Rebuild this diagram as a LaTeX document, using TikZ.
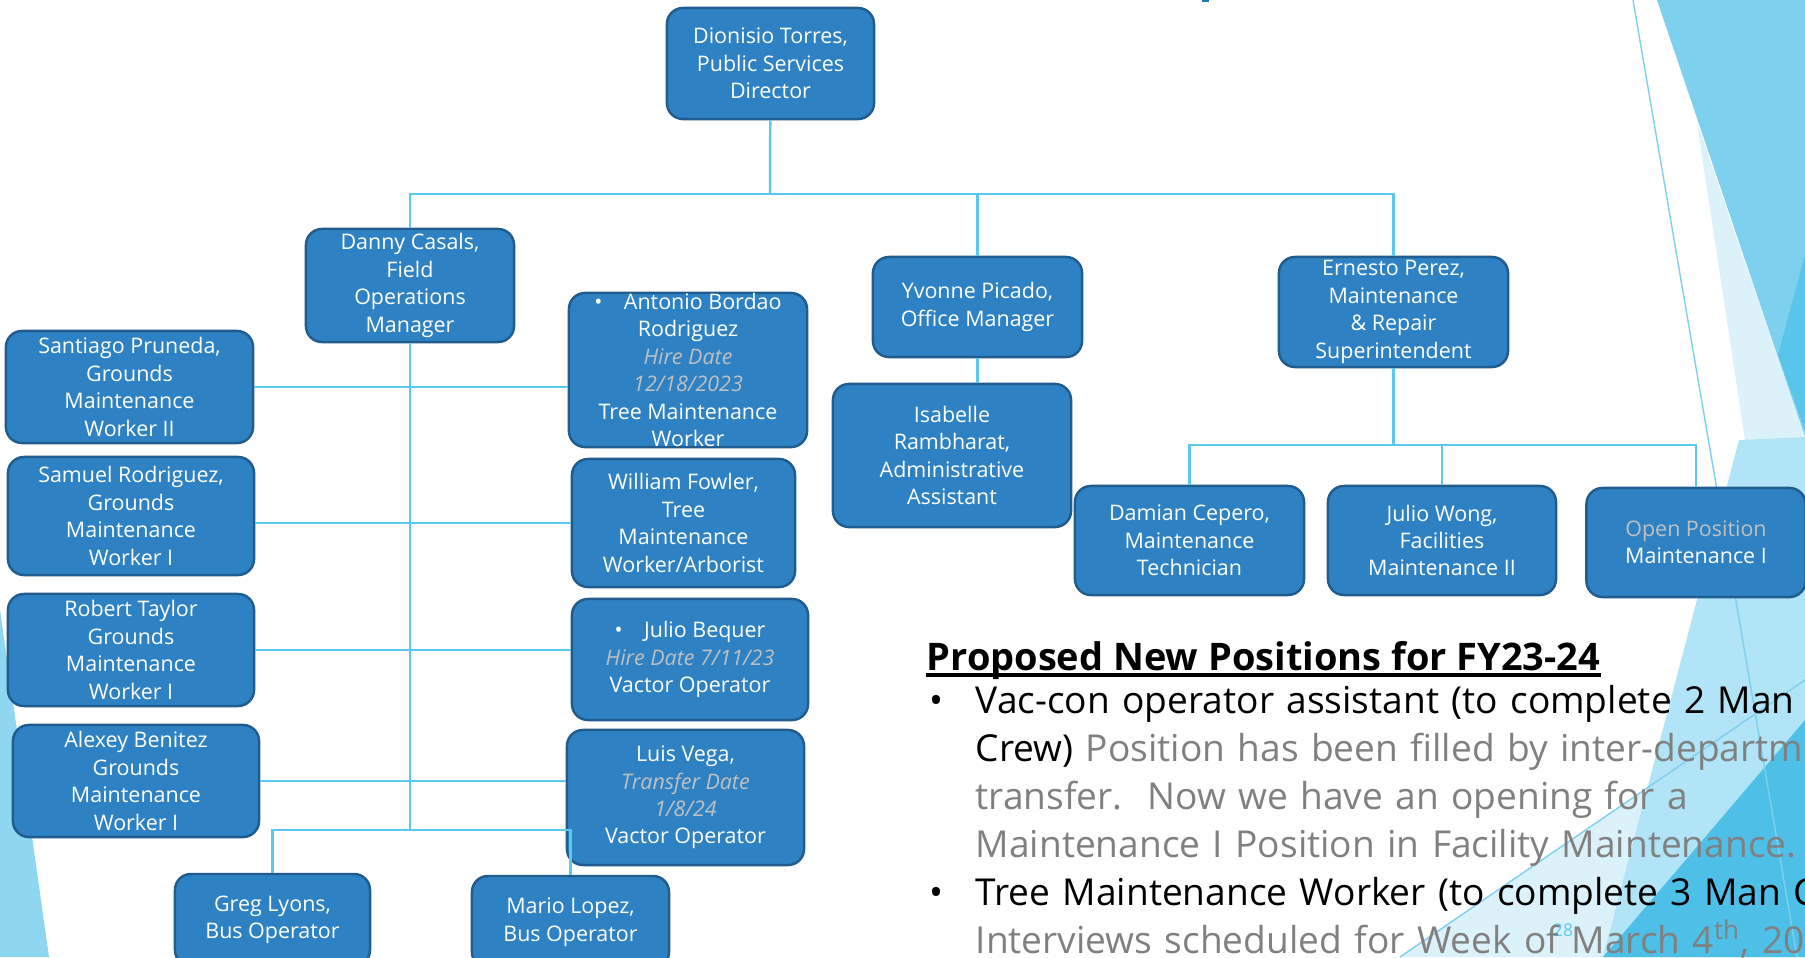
\documentclass[tikz,border=0pt]{standalone}
\usepackage{fontspec}
\setmainfont{Open Sans}

\definecolor{boxblue}{RGB}{46,130,195}
\definecolor{boxline}{RGB}{33,92,142}
\definecolor{linkblue}{RGB}{91,200,238}
\definecolor{hiregrey}{RGB}{192,192,192}
\definecolor{notegrey}{RGB}{128,128,128}
\definecolor{titlemark}{RGB}{26,127,175}
\definecolor{decotop}{RGB}{125,208,238}
\definecolor{decodark}{RGB}{90,197,234}
\definecolor{decopale}{RGB}{220,242,251}
\definecolor{decolight}{RGB}{176,228,246}
\definecolor{decodeep}{RGB}{78,192,232}
\definecolor{decoleft}{RGB}{143,214,241}

\newcommand{\hiretxt}[1]{\textcolor{hiregrey}{\itshape #1}}

\tikzset{
  posbox/.style 2 args={draw=boxline,line width=0.7pt,fill=boxblue,rounded corners=0.16cm,
    text=white,align=center,inner sep=0pt,minimum width=#1,minimum height=#2,
    font=\fontsize{6.1}{7.8}\selectfont},
  link/.style={draw=linkblue,line width=0.7pt},
  notefont/.style={font=\fontsize{10.55}{13.66}\selectfont}
}

\begin{document}
\begin{tikzpicture}[x=0.01cm,y=-0.01cm]

\useasboundingbox (0,0) rectangle (1805,957);
\clip (0,0) rectangle (1805,957);

% background shapes
\fill[decoleft] (0,610) -- (49,957) -- (0,957) -- cycle;
\fill[decotop] (1657,0) -- (1805,0) -- (1805,437) -- cycle;
\fill[decodark] (1805,255) -- (1778,355) -- (1805,430) -- cycle;
\fill[decopale] (1697,123) -- (1805,437) -- (1745,440) -- cycle;
\fill[decopale] (1400,957) -- (1805,680) -- (1805,957) -- cycle;
\fill[decolight] (1739,440) -- (1805,437) -- (1805,957) -- (1603,957) -- cycle;
\fill[decodeep] (1603,957) -- (1805,720) -- (1805,957) -- cycle;
\draw[decotop,line width=0.4pt] (1633,0) -- (1797,957);
\draw[decotop,line width=0.4pt] (1400,957) -- (1805,680);
\fill[titlemark] (1202,0) rectangle (1209,2);

\node[posbox={2.07cm}{1.11cm}] (dir) at (770.5,63.5) {Dionisio Torres,\\Public Services\\Director};

\node[posbox={2.08cm}{1.13cm}] (danny) at (410,285.5) {Danny Casals,\\Field\\Operations\\Manager};
\node[posbox={2.09cm}{1.00cm}] (yvonne) at (977.5,307) {Yvonne Picado,\\Office Manager};
\node[posbox={2.29cm}{1.10cm}] (ernesto) at (1393.5,312) {Ernesto Perez,\\Maintenance\\\& Repair\\Superintendent};

\node[posbox={2.38cm}{1.54cm}] (antonio) at (688,370) {•\quad Antonio Bordao\\Rodriguez\\\hiretxt{Hire Date}\\\hiretxt{12/18/2023}\\Tree Maintenance\\Worker};
\node[posbox={2.23cm}{1.28cm}] (william) at (683.5,523) {William Fowler,\\Tree\\Maintenance\\Worker/Arborist};
\node[posbox={2.36cm}{1.21cm}] (juliob) at (690,659.5) {•\quad Julio Bequer\\\hiretxt{Hire Date 7/11/23}\\Vactor Operator};
\node[posbox={2.37cm}{1.35cm}] (luis) at (685.5,797.5) {Luis Vega,\\\hiretxt{Transfer Date}\\\hiretxt{1/8/24}\\Vactor Operator};

\node[posbox={2.47cm}{1.12cm}] (santiago) at (129.5,387) {Santiago Pruneda,\\Grounds\\Maintenance\\Worker II};
\node[posbox={2.46cm}{1.18cm}] (samuel) at (131,516) {Samuel Rodriguez,\\Grounds\\Maintenance\\Worker I};
\node[posbox={2.46cm}{1.12cm}] (robert) at (131,650) {Robert Taylor\\Grounds\\Maintenance\\Worker I};
\node[posbox={2.46cm}{1.12cm}] (alexey) at (136,781) {Alexey Benitez\\Grounds\\Maintenance\\Worker I};

\node[posbox={1.95cm}{0.92cm}] (greg) at (272.5,920) {Greg Lyons,\\Bus Operator};
\node[posbox={1.97cm}{0.92cm}] (mario) at (570.5,922) {Mario Lopez,\\Bus Operator};

\node[posbox={2.38cm}{1.43cm}] (isabelle) at (952,455.5) {Isabelle\\Rambharat,\\Administrative\\Assistant};

\node[posbox={2.29cm}{1.09cm}] (damian) at (1189.5,540.5) {Damian Cepero,\\Maintenance\\Technician};
\node[posbox={2.28cm}{1.09cm}] (juliow) at (1442,540.5) {Julio Wong,\\Facilities\\Maintenance II};
\node[posbox={2.19cm}{1.09cm}] (openpos) at (1696,542.5) {\textcolor{hiregrey}{Open Position}\\Maintenance I};

% connectors
\coordinate (topbar) at (770,194);
\coordinate (busbar) at (410,830);
\coordinate (ernbar) at (1398,445);

\draw[link] (dir) -- (topbar);
\draw[link] (danny) |- (topbar) -| (ernesto);
\draw[link] (yvonne) -- (yvonne |- topbar);
\draw[link] (yvonne.south) -- (yvonne.south |- isabelle.north);

\draw[link] (danny) -- (busbar);
\draw[link] (greg) |- (busbar) -| (mario);
\draw[link] (santiago.east) -- (santiago.east -| antonio.west);
\draw[link] (samuel.east |- william.west) -- (william.west);
\draw[link] (robert.east) -- (robert.east -| juliob.west);
\draw[link] (alexey.east) -- (alexey.east -| luis.west);

\draw[link] (ernesto) -- (ernesto |- ernbar);
\draw[link] (damian) |- (ernbar) -| (openpos);
\draw[link] (juliow) -- (juliow |- ernbar);

% proposed positions
\node[anchor=base west,inner sep=0pt,font=\bfseries\fontsize{10.8}{13.66}\selectfont] (fytitle) at (926,670) {Proposed New Positions for FY23-24};
\draw[line width=1.1pt] ([yshift=-1.5pt]fytitle.base west) -- ([yshift=-1.5pt]fytitle.base east);

\node[text=linkblue,font=\fontsize{5}{6}\selectfont] (slideno) at (1563,930) {28};

\node[notefont,anchor=base west,inner sep=0pt] (dotA) at (929,713) {•};
\node[notefont,anchor=base west,inner sep=0pt,text width=12cm,align=left] (itemA) at (975,713)
  {Vac-con operator assistant (to complete 2 Man\\
   Crew) \textcolor{notegrey}{Position has been filled by inter-department}\\
   \textcolor{notegrey}{transfer.\ \ Now we have an opening for a}\\
   \textcolor{notegrey}{Maintenance I Position in Facility Maintenance.}};

\node[notefont,anchor=base west,inner sep=0pt] (dotB) at (929,905) {•};
\node[notefont,anchor=base west,inner sep=0pt,text width=12cm,align=left] (itemB) at (975,905)
  {Tree Maintenance Worker (to complete 3 Man Crew)\\
   \textcolor{notegrey}{Interviews scheduled for Week of March 4\textsuperscript{th}, 2024}};

\end{tikzpicture}
\end{document}
